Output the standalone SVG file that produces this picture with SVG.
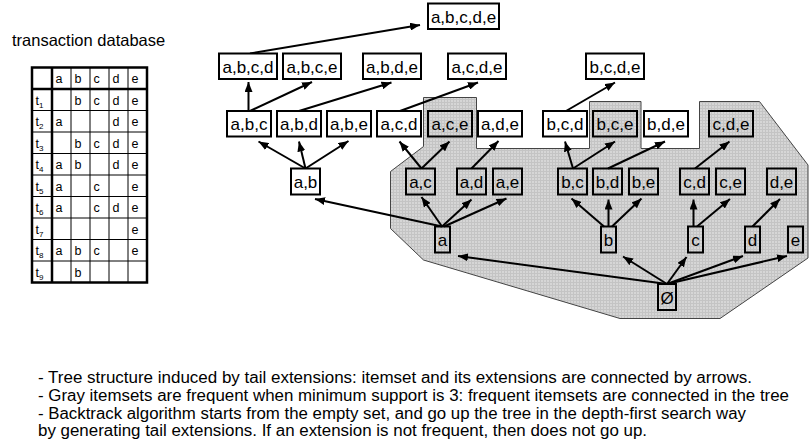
<svg xmlns="http://www.w3.org/2000/svg" width="809" height="447" viewBox="0 0 809 447">
<style>
text{font-family:"Liberation Sans",Arial,sans-serif;fill:#000}
.title{font-size:16.5px}
.cell{font-size:12.5px}
.sub{font-size:8px}
.thin{stroke:#000;stroke-width:1;fill:none}
.thick{stroke:#000;stroke-width:2.5;fill:none}
.node rect{stroke:#000;stroke-width:2}
.w rect{fill:#fff}
.g rect{fill:none}
.node text{font-size:17px;text-anchor:middle}
.edge{stroke:#000;stroke-width:2;fill:none;marker-end:url(#ah)}
.note{font-size:16px}
</style>
<defs>
<pattern id="grid" width="3" height="3" patternUnits="userSpaceOnUse">
<rect width="3" height="3" fill="#d6d6d6"/>
<path d="M0 0.5H3M0.5 0V3" stroke="#c4c4c4" stroke-width="1"/>
</pattern>
<marker id="ah" markerUnits="userSpaceOnUse" markerWidth="10" markerHeight="8" refX="10" refY="4" orient="auto">
<path d="M0 0L10 4L0 8z" fill="#000"/>
</marker>
</defs>
<rect width="809" height="447" fill="#fff"/>

<text class="title" x="12" y="46">transaction database</text>

<g id="table">
<path class="thin" d="M71 67.5V282.5M90 67.5V282.5M109 67.5V282.5M128 67.5V282.5M32 110.5H147M32 132H147M32 153.5H147M32 175H147M32 196.5H147M32 218H147M32 239.5H147M32 261H147"/>
<rect class="thick" x="32" y="67.5" width="115" height="215"/>
<path class="thick" d="M52 67.5V282.5M32 89H147"/>
<g class="cell">
<text x="55.5" y="83">a</text><text x="74.5" y="83">b</text><text x="93.5" y="83">c</text><text x="112.5" y="83">d</text><text x="131.5" y="83">e</text>
<text x="35.5" y="104.5">t<tspan class="sub" dy="3">1</tspan></text>
<text x="74.5" y="104.5">b</text><text x="93.5" y="104.5">c</text><text x="112.5" y="104.5">d</text><text x="131.5" y="104.5">e</text>
<text x="35.5" y="126">t<tspan class="sub" dy="3">2</tspan></text>
<text x="55.5" y="126">a</text><text x="112.5" y="126">d</text><text x="131.5" y="126">e</text>
<text x="35.5" y="147.5">t<tspan class="sub" dy="3">3</tspan></text>
<text x="74.5" y="147.5">b</text><text x="93.5" y="147.5">c</text><text x="112.5" y="147.5">d</text><text x="131.5" y="147.5">e</text>
<text x="35.5" y="169">t<tspan class="sub" dy="3">4</tspan></text>
<text x="55.5" y="169">a</text><text x="74.5" y="169">b</text><text x="112.5" y="169">d</text><text x="131.5" y="169">e</text>
<text x="35.5" y="190.5">t<tspan class="sub" dy="3">5</tspan></text>
<text x="55.5" y="190.5">a</text><text x="93.5" y="190.5">c</text><text x="131.5" y="190.5">e</text>
<text x="35.5" y="212">t<tspan class="sub" dy="3">6</tspan></text>
<text x="55.5" y="212">a</text><text x="93.5" y="212">c</text><text x="112.5" y="212">d</text><text x="131.5" y="212">e</text>
<text x="35.5" y="233.5">t<tspan class="sub" dy="3">7</tspan></text>
<text x="131.5" y="233.5">e</text>
<text x="35.5" y="255">t<tspan class="sub" dy="3">8</tspan></text>
<text x="55.5" y="255">a</text><text x="74.5" y="255">b</text><text x="93.5" y="255">c</text><text x="131.5" y="255">e</text>
<text x="35.5" y="276.5">t<tspan class="sub" dy="3">9</tspan></text>
<text x="74.5" y="276.5">b</text>
</g>
</g>

<polygon id="frequent-region" points="423.5,97.5 476.5,97.5 476.5,148.5 589.5,148.5 589.5,101.5 641,101.5 641,148.5 699.5,148.5 699.5,101.5 759.5,101.5 808,165 808,258 720,318.5 620,318.5 423.5,260 390.5,228.5 390.5,171.5 423.5,146.5" fill="url(#grid)" stroke="#444" stroke-width="1"/>

<g id="connectors">
<line class="edge" x1="250" y1="53.5" x2="420" y2="25"/>
<line class="edge" x1="248.5" y1="111" x2="248.5" y2="82"/>
<line class="edge" x1="250" y1="111" x2="312" y2="82"/>
<line class="edge" x1="299" y1="111" x2="391.5" y2="82.5"/>
<line class="edge" x1="400" y1="111" x2="478" y2="82.5"/>
<line class="edge" x1="566" y1="111" x2="615" y2="82.5"/>
<line class="edge" x1="305.5" y1="168.5" x2="258.5" y2="141.5"/>
<line class="edge" x1="305.5" y1="168.5" x2="299" y2="141.5"/>
<line class="edge" x1="305.5" y1="168.5" x2="348.5" y2="141"/>
<line class="edge" x1="421.5" y1="168.5" x2="399.5" y2="141.5"/>
<line class="edge" x1="421.5" y1="168.5" x2="449.5" y2="141.5"/>
<line class="edge" x1="471.5" y1="168.5" x2="498.5" y2="141"/>
<line class="edge" x1="573" y1="168.5" x2="565" y2="141.5"/>
<line class="edge" x1="573" y1="168.5" x2="615" y2="141.5"/>
<line class="edge" x1="608" y1="168.5" x2="665" y2="141.5"/>
<line class="edge" x1="695" y1="168.5" x2="729.5" y2="141.5"/>
<line class="edge" x1="442" y1="226.5" x2="315" y2="199"/>
<line class="edge" x1="442" y1="226.5" x2="421.5" y2="197"/>
<line class="edge" x1="442" y1="226.5" x2="471.5" y2="199.5"/>
<line class="edge" x1="444" y1="226.5" x2="506.5" y2="198.5"/>
<line class="edge" x1="604" y1="226.5" x2="571.5" y2="198.5"/>
<line class="edge" x1="608.5" y1="226.5" x2="608.5" y2="199.5"/>
<line class="edge" x1="612" y1="226.5" x2="641.5" y2="198.5"/>
<line class="edge" x1="693.5" y1="226.5" x2="693.5" y2="199.5"/>
<line class="edge" x1="697" y1="226.5" x2="730" y2="199"/>
<line class="edge" x1="752.5" y1="226.5" x2="780" y2="199"/>
<line class="edge" x1="667" y1="284" x2="458" y2="256"/>
<line class="edge" x1="667" y1="284" x2="623" y2="256.5"/>
<line class="edge" x1="667" y1="284" x2="686.5" y2="257"/>
<line class="edge" x1="667" y1="284" x2="743" y2="256"/>
<line class="edge" x1="667" y1="284" x2="787" y2="256"/>
</g>

<g id="n-abcde" class="node w"><rect x="428" y="3.5" width="71" height="25.5"/><text x="463.5" y="22.5">a,b,c,d,e</text></g>

<g id="n-abcd" class="node w"><rect x="219" y="53.5" width="58" height="25.5"/><text x="248" y="72.5">a,b,c,d</text></g>
<g id="n-abce" class="node w"><rect x="283" y="53.5" width="58" height="25.5"/><text x="312" y="72.5">a,b,c,e</text></g>
<g id="n-abde" class="node w"><rect x="363" y="53.5" width="58" height="25.5"/><text x="392" y="72.5">a,b,d,e</text></g>
<g id="n-acde" class="node w"><rect x="448" y="53.5" width="58" height="25.5"/><text x="477" y="72.5">a,c,d,e</text></g>
<g id="n-bcde" class="node w"><rect x="586" y="53.5" width="58" height="25.5"/><text x="615" y="72.5">b,c,d,e</text></g>

<g id="n-abc" class="node w"><rect x="227" y="111" width="44" height="25.5"/><text x="249" y="130">a,b,c</text></g>
<g id="n-abd" class="node w"><rect x="277" y="111" width="44" height="25.5"/><text x="299" y="130">a,b,d</text></g>
<g id="n-abe" class="node w"><rect x="327" y="111" width="44" height="25.5"/><text x="349" y="130">a,b,e</text></g>
<g id="n-acd" class="node w"><rect x="377" y="111" width="44" height="25.5"/><text x="399" y="130">a,c,d</text></g>
<g id="n-ace" class="node g"><rect x="428" y="111" width="44" height="25.5"/><text x="450" y="130">a,c,e</text></g>
<g id="n-ade" class="node w"><rect x="478" y="111" width="44" height="25.5"/><text x="500" y="130">a,d,e</text></g>
<g id="n-bcd" class="node w"><rect x="543" y="111" width="44" height="25.5"/><text x="565" y="130">b,c,d</text></g>
<g id="n-bce" class="node g"><rect x="593" y="111" width="44" height="25.5"/><text x="615" y="130">b,c,e</text></g>
<g id="n-bde" class="node w"><rect x="644" y="111" width="44" height="25.5"/><text x="666" y="130">b,d,e</text></g>
<g id="n-cde" class="node g"><rect x="709" y="111" width="44" height="25.5"/><text x="731" y="130">c,d,e</text></g>

<g id="n-ab" class="node w"><rect x="291" y="168.5" width="29" height="26"/><text x="305.5" y="188">a,b</text></g>
<g id="n-ac" class="node g"><rect x="406" y="168.5" width="29" height="26"/><text x="420.5" y="188">a,c</text></g>
<g id="n-ad" class="node g"><rect x="457" y="168.5" width="29" height="26"/><text x="471.5" y="188">a,d</text></g>
<g id="n-ae" class="node g"><rect x="493" y="168.5" width="29" height="26"/><text x="507.5" y="188">a,e</text></g>
<g id="n-bc" class="node g"><rect x="558" y="168.5" width="29" height="26"/><text x="572.5" y="188">b,c</text></g>
<g id="n-bd" class="node g"><rect x="593" y="168.5" width="29" height="26"/><text x="607.5" y="188">b,d</text></g>
<g id="n-be" class="node g"><rect x="629" y="168.5" width="29" height="26"/><text x="643.5" y="188">b,e</text></g>
<g id="n-cd" class="node g"><rect x="680" y="168.5" width="29" height="26"/><text x="694.5" y="188">c,d</text></g>
<g id="n-ce" class="node g"><rect x="716" y="168.5" width="29" height="26"/><text x="730.5" y="188">c,e</text></g>
<g id="n-de" class="node g"><rect x="767" y="168.5" width="29" height="26"/><text x="781.5" y="188">d,e</text></g>

<g id="n-a" class="node g"><rect x="435" y="226.5" width="15" height="26"/><text x="442.5" y="246">a</text></g>
<g id="n-b" class="node g"><rect x="601" y="226.5" width="15" height="26"/><text x="608.5" y="246">b</text></g>
<g id="n-c" class="node g"><rect x="688" y="226.5" width="15" height="26"/><text x="695.5" y="246">c</text></g>
<g id="n-d" class="node g"><rect x="745" y="226.5" width="15" height="26"/><text x="752.5" y="246">d</text></g>
<g id="n-e" class="node g"><rect x="788" y="226.5" width="15" height="26"/><text x="795.5" y="246">e</text></g>

<g id="n-empty" class="node g"><rect x="658" y="284" width="18" height="26"/><text x="667" y="303.5">Ø</text></g>

<g id="notes" class="note">
<text x="38" y="383" textLength="714" lengthAdjust="spacingAndGlyphs">- Tree structure induced by tail extensions: itemset and its extensions are connected by arrows.</text>
<text x="38" y="401" textLength="751" lengthAdjust="spacingAndGlyphs">- Gray itemsets are frequent when minimum support is 3: frequent itemsets are connected in the tree</text>
<text x="38" y="418.5" textLength="708" lengthAdjust="spacingAndGlyphs">- Backtrack algorithm starts from the empty set, and go up the tree in the depth-first search way</text>
<text x="38" y="436" textLength="609" lengthAdjust="spacingAndGlyphs">by generating tail extensions. If an extension is not frequent, then does not go up.</text>
</g>
</svg>
